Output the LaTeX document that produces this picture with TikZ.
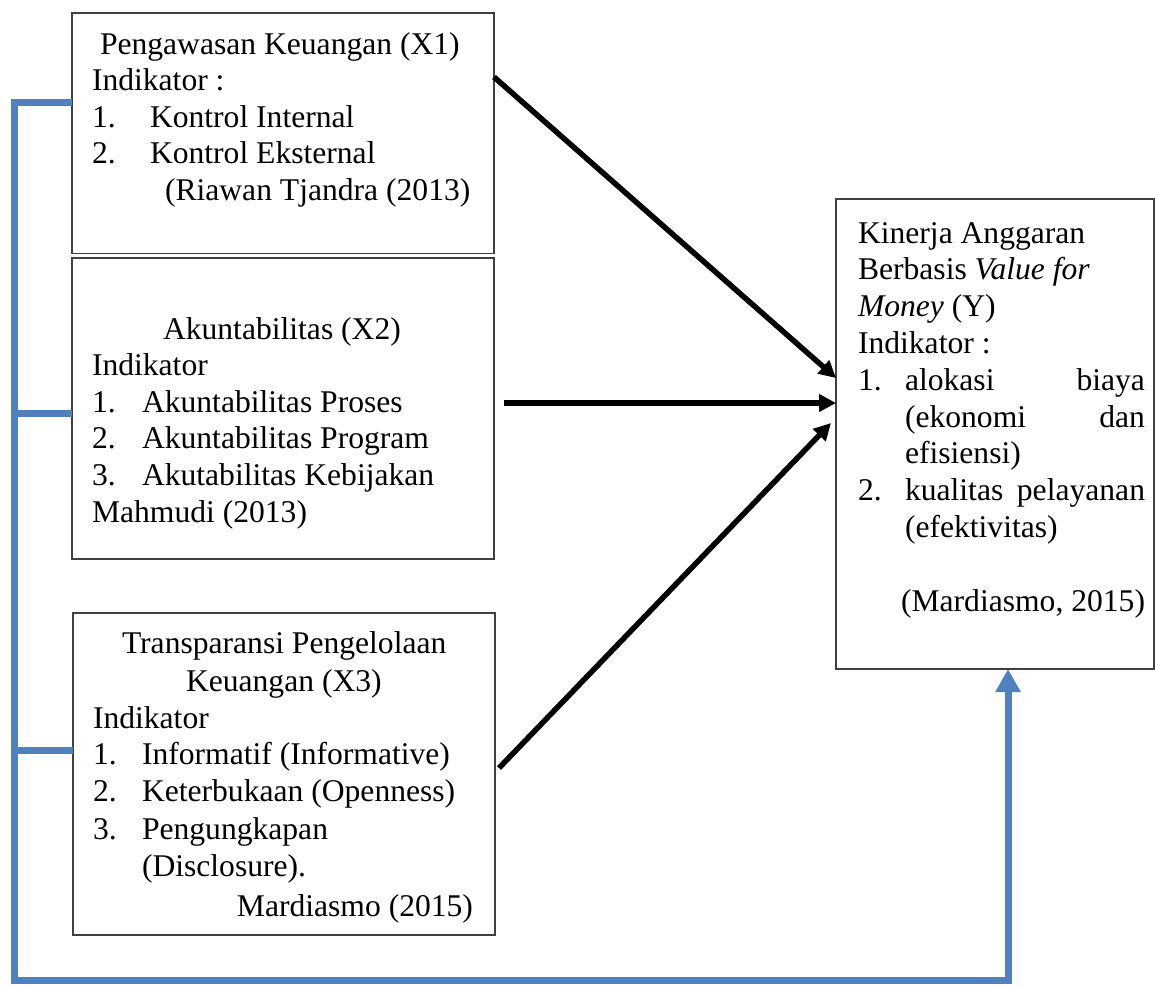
\documentclass[tikz,border=0pt]{standalone}
\usepackage{fontspec}
\setmainfont{Liberation Serif}
\usetikzlibrary{arrows.meta,calc}
\definecolor{blu}{RGB}{79,129,189}
\newcommand\tx[4]{\node[txt,anchor=base #1] (#2) at (#3) {#4};}
\begin{document}
\begin{tikzpicture}[x=1pt,y=-1pt,
  box/.style={draw=black!75,line width=1.2pt,anchor=north west,inner sep=0pt,outer sep=0pt},
  txt/.style={inner sep=0pt,outer sep=0pt,font=\fontsize{31.6pt}{36.6pt}\selectfont},
  blk/.style={line width=5.5pt,-{Triangle[length=17pt,width=17pt]}},
  bl/.style={draw=blu,line width=7pt,line join=miter}]
\useasboundingbox (0,0) rectangle (1155,986);

% boxes
\node[box,minimum width=422pt,minimum height=240.5pt] (b1) at (72,13) {};
\node[box,minimum width=422pt,minimum height=301pt] (b2) at (72,258) {};
\node[box,minimum width=422pt,minimum height=322pt] (b3) at (73,613) {};
\node[box,minimum width=318pt,minimum height=470pt] (Y) at (836,199) {};

% box 1 text
\tx{west}{t11}{100,54}{Pengawasan Keuangan (X1)}
\tx{west}{t12}{92,90.5}{Indikator :}
\tx{west}{t13}{92,127}{1.}
\tx{west}{t14}{150,127}{Kontrol Internal}
\tx{west}{t15}{92,163.5}{2.}
\tx{west}{t16}{150,163.5}{Kontrol Eksternal}
\tx{west}{t17}{165,200}{(Riawan Tjandra (2013)}

% box 2 text
\tx{west}{t21}{163,339}{Akuntabilitas (X2)}
\tx{west}{t22}{92,375.6}{Indikator}
\tx{west}{t23}{92,412.2}{1.}
\tx{west}{t24}{142,412.2}{Akuntabilitas Proses}
\tx{west}{t25}{92,448.8}{2.}
\tx{west}{t26}{142,448.8}{Akuntabilitas Program}
\tx{west}{t27}{92,485.4}{3.}
\tx{west}{t28}{142,485.4}{Akutabilitas Kebijakan}
\tx{west}{t29}{92,522}{Mahmudi (2013)}

% box 3 text
\tx{west}{t31}{122,653}{Transparansi Pengelolaan}
\tx{west}{t32}{186,691}{Keuangan (X3)}
\tx{west}{t33}{93,728}{Indikator}
\tx{west}{t34}{93,764}{1.}
\tx{west}{t35}{142,764}{Informatif (Informative)}
\tx{west}{t36}{93,801}{2.}
\tx{west}{t37}{142,801}{Keterbukaan (Openness)}
\tx{west}{t38}{93,839}{3.}
\tx{west}{t39}{142,839}{Pengungkapan}
\tx{west}{t310}{142,876}{(Disclosure).}
\tx{east}{t311}{473,916}{Mardiasmo (2015)}

% Y box text
\tx{west}{y1}{858,243}{Kinerja Anggaran}
\tx{west}{y2}{858,279.8}{Berbasis \textit{Value for}}
\tx{west}{y3}{858,316.6}{\textit{Money} (Y)}
\tx{west}{y4}{858,353.4}{Indikator :}
\tx{west}{y5}{858,390.2}{1.}
\tx{west}{y6}{905,390.2}{\makebox[240pt][l]{alokasi\hfill biaya}}
\tx{west}{y7}{905,427}{\makebox[240pt][l]{(ekonomi\hfill dan}}
\tx{west}{y8}{905,463.8}{efisiensi)}
\tx{west}{y9}{858,500.6}{2.}
\tx{west}{y10}{905,500.6}{\makebox[240pt][l]{kualitas\hfill pelayanan}}
\tx{west}{y11}{905,537.4}{(efektivitas)}
\tx{east}{y12}{1145,611}{(Mardiasmo, 2015)}

% black arrows
\draw[blk] ($(b1.north east)+(0,64)$) -- ($(Y.north west)+(0,179)$);
\draw[blk] ($(b2.north east)+(10,145)$) -- ($(Y.north west)+(0,204)$);
\draw[blk] ($(b3.north east)+(4,155)$) -- ($(Y.north west)+(-5,224)$);

% blue connector
\coordinate (c1) at (14,102);
\coordinate (c2) at (14,980);
\coordinate (c3) at (1008,980);
\draw[bl,-{Triangle[length=23pt,width=24pt]}] ($(b1.north west)+(0,89)$) -- (c1) -- (c2) -- (c3) -- (c3 |- Y.south);
\draw[bl] ($(b2.north west)+(0,155)$) coordinate (p2) -- (c1 |- p2);
\draw[bl] ($(b3.north west)+(0,137)$) coordinate (p3) -- (c1 |- p3);
\end{tikzpicture}
\end{document}
